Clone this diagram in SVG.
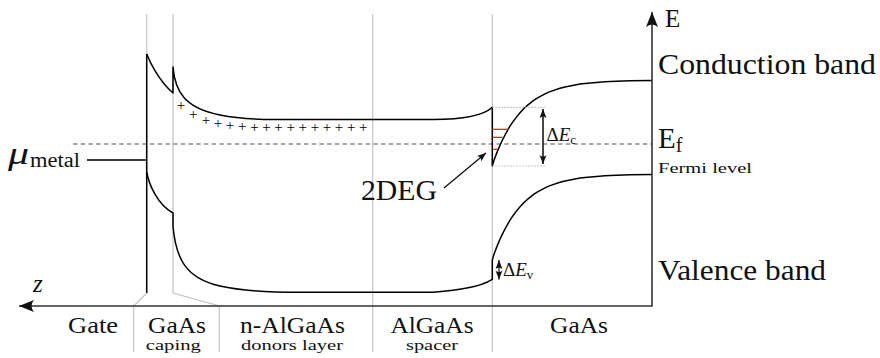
<svg xmlns="http://www.w3.org/2000/svg" width="880" height="358" viewBox="0 0 880 358" font-family="Liberation Serif, DejaVu Serif, serif">
<style>
.t{fill:#111}
.lay{fill:none;stroke:#c4c4c4;stroke-width:1.2}
.band{fill:none;stroke:#000;stroke-width:1.5;stroke-linejoin:round}
.ax{fill:none;stroke:#333;stroke-width:1.6}
.dot{fill:none;stroke:#bbb;stroke-width:1.2;stroke-dasharray:1.5 1.5}
.red{stroke:#e0141e;stroke-width:1.2}
.pl{font-size:15px;text-anchor:middle;fill:#000}
.lab{font-size:24px;text-anchor:middle}
.sub{font-size:14px;text-anchor:middle}
</style>
<defs>
<marker id="big" markerUnits="userSpaceOnUse" viewBox="-17 -8 19 16" refX="0" refY="0" markerWidth="19" markerHeight="16" orient="auto">
<path d="M0,0 L-15,-6 Q-10,0 -15,6 Z" fill="#111"/>
</marker>
<marker id="sm" markerUnits="userSpaceOnUse" viewBox="-10 -5 11 10" refX="0" refY="0" markerWidth="11" markerHeight="10" orient="auto-start-reverse">
<path d="M0,0 L-9,-3.5 Q-6,0 -9,3.5 Z" fill="#111"/>
</marker>
</defs>

<g id="layers">
<path class="lay" d="M146.7,14 V293 L133.7,306 V352"/>
<path class="lay" d="M173,14 V293 L219.3,306 V352"/>
<path class="lay" d="M372.7,14 V352"/>
<path class="lay" d="M492.3,14 V352"/>
</g>

<g id="fermi">
<path d="M73,144 H652" fill="none" stroke="#555" stroke-width="1.1" stroke-dasharray="4.5 3.2"/>
</g>

<g id="gate">
<path class="band" d="M146.7,54 V293"/>
<path class="band" d="M87,160 H146.7"/>
</g>

<g id="conduction-band">
<path class="band" d="M146.7,54 C149,60 158,80 173,93 V67 C175,92 185,108 220,115 C232,117.5 250,119.5 275,119.5 L433,119.5 C460,119.5 482,117 492.3,107.3 V166 L494,160.3 L496,154.9 L498,149.9 L500,145.3 L502,140.9 L505,135 L507,131.3 L510,126.2 L513,121.7 L516,117.6 L520,112.7 L524,108.5 L528,104.9 L534,100.2 L538,97.6 L546,93.4 L550,91.6 L560,88.2 L565,86.9 L580,84.1 L585,83.5 L605,81.7 L610,81.5 L630,80.7 L652,80.4"/>
</g>

<g id="valence-band">
<path class="band" d="M146.7,172 C149,185 158,205 173,213 V226.7 C176,258 185,278 220,286 C240,290.5 265,292.3 300,292.3 L433,292.3 C460,290 480,287 492.3,279.3 V260 L494,254.3 L496,248.9 L498,243.9 L500,239.3 L502,234.9 L505,229 L507,225.3 L510,220.2 L513,215.7 L516,211.6 L520,206.7 L524,202.5 L528,198.9 L534,194.2 L538,191.6 L546,187.4 L550,185.6 L560,182.2 L565,180.9 L580,178.1 L585,177.5 L605,175.7 L610,175.5 L630,174.7 L652,174.4"/>
</g>

<g id="donors">
<text class="pl" x="181" y="110">+</text>
<text class="pl" x="193.3" y="119">+</text>
<text class="pl" x="206" y="125">+</text>
<text class="pl" x="218" y="128.3">+</text>
<text class="pl" x="230" y="130">+</text>
<text class="pl" x="242.3" y="131">+</text>
<text class="pl" x="254.4" y="131.5">+</text>
<text class="pl" x="266.5" y="131.5">+</text>
<text class="pl" x="278.6" y="131.5">+</text>
<text class="pl" x="290.7" y="131.5">+</text>
<text class="pl" x="302.8" y="131.5">+</text>
<text class="pl" x="314.9" y="131.5">+</text>
<text class="pl" x="327" y="131.5">+</text>
<text class="pl" x="339.1" y="131.5">+</text>
<text class="pl" x="351.2" y="131.5">+</text>
<text class="pl" x="363.3" y="131.5">+</text>
</g>

<g id="2deg-levels">
<line class="red" x1="492.3" y1="129.3" x2="509" y2="129.3"/>
<line class="red" x1="492.3" y1="137.3" x2="502.5" y2="137.3"/>
<line class="red" x1="492.3" y1="149.3" x2="497.5" y2="149.3"/>
</g>

<g id="offsets">
<path class="dot" d="M492.3,107.3 H545 M492.3,166 H545"/>
<line x1="543" y1="109" x2="543" y2="164" stroke="#333" stroke-width="1.8" marker-start="url(#sm)" marker-end="url(#sm)"/>
<text class="t" x="546.5" y="141" font-size="19">Δ<tspan font-style="italic">E</tspan><tspan font-size="13" dy="2.5">c</tspan></text>
<line x1="499" y1="260" x2="499" y2="279.5" stroke="#111" stroke-width="1.2" marker-start="url(#sm)" marker-end="url(#sm)"/>
<text class="t" x="503" y="276" font-size="19">Δ<tspan font-style="italic">E</tspan><tspan font-size="13" dy="2.5">v</tspan></text>
</g>

<g id="connectors">
<line x1="444" y1="188" x2="486" y2="153" stroke="#111" stroke-width="1.3" marker-end="url(#sm)"/>
</g>

<g id="label-2deg">
<text class="t" x="361" y="200" font-size="29" textLength="76" lengthAdjust="spacingAndGlyphs">2DEG</text>
</g>

<g id="axes">
<line class="ax" x1="652" y1="306" x2="19" y2="306" marker-end="url(#big)"/>
<line class="ax" x1="652" y1="306.8" x2="652" y2="12" marker-end="url(#big)"/>
<text class="t" x="33" y="292" font-size="25" font-style="italic">z</text>
<text class="t" x="665" y="27" font-size="25">E</text>
</g>

<g id="right-labels">
<text class="t" x="658" y="74" font-size="30" textLength="218" lengthAdjust="spacingAndGlyphs">Conduction band</text>
<text class="t" x="658" y="148" font-size="29">E<tspan font-size="20" dy="4">f</tspan></text>
<text class="t" x="658" y="173" font-size="15" textLength="94" lengthAdjust="spacingAndGlyphs">Fermi level</text>
<text class="t" x="658" y="280" font-size="29" textLength="168" lengthAdjust="spacingAndGlyphs">Valence band</text>
</g>

<g id="mu-metal">
<text class="t" x="8" y="164" font-size="32" font-style="italic" textLength="21" lengthAdjust="spacingAndGlyphs">μ</text>
<text class="t" x="30" y="167" font-size="20" textLength="50" lengthAdjust="spacingAndGlyphs">metal</text>
</g>

<g id="layer-labels">
<text class="t lab" x="93" y="333" textLength="50" lengthAdjust="spacingAndGlyphs">Gate</text>
<text class="t lab" x="177" y="333" textLength="58" lengthAdjust="spacingAndGlyphs">GaAs</text>
<text class="t lab" x="292.5" y="333" textLength="105" lengthAdjust="spacingAndGlyphs">n-AlGaAs</text>
<text class="t lab" x="432" y="333" textLength="83" lengthAdjust="spacingAndGlyphs">AlGaAs</text>
<text class="t lab" x="579" y="333" textLength="58" lengthAdjust="spacingAndGlyphs">GaAs</text>
<text class="t sub" x="173.3" y="350" textLength="55" lengthAdjust="spacingAndGlyphs">caping</text>
<text class="t sub" x="292" y="350" textLength="102" lengthAdjust="spacingAndGlyphs">donors layer</text>
<text class="t sub" x="432" y="350" textLength="52" lengthAdjust="spacingAndGlyphs">spacer</text>
</g>
</svg>
